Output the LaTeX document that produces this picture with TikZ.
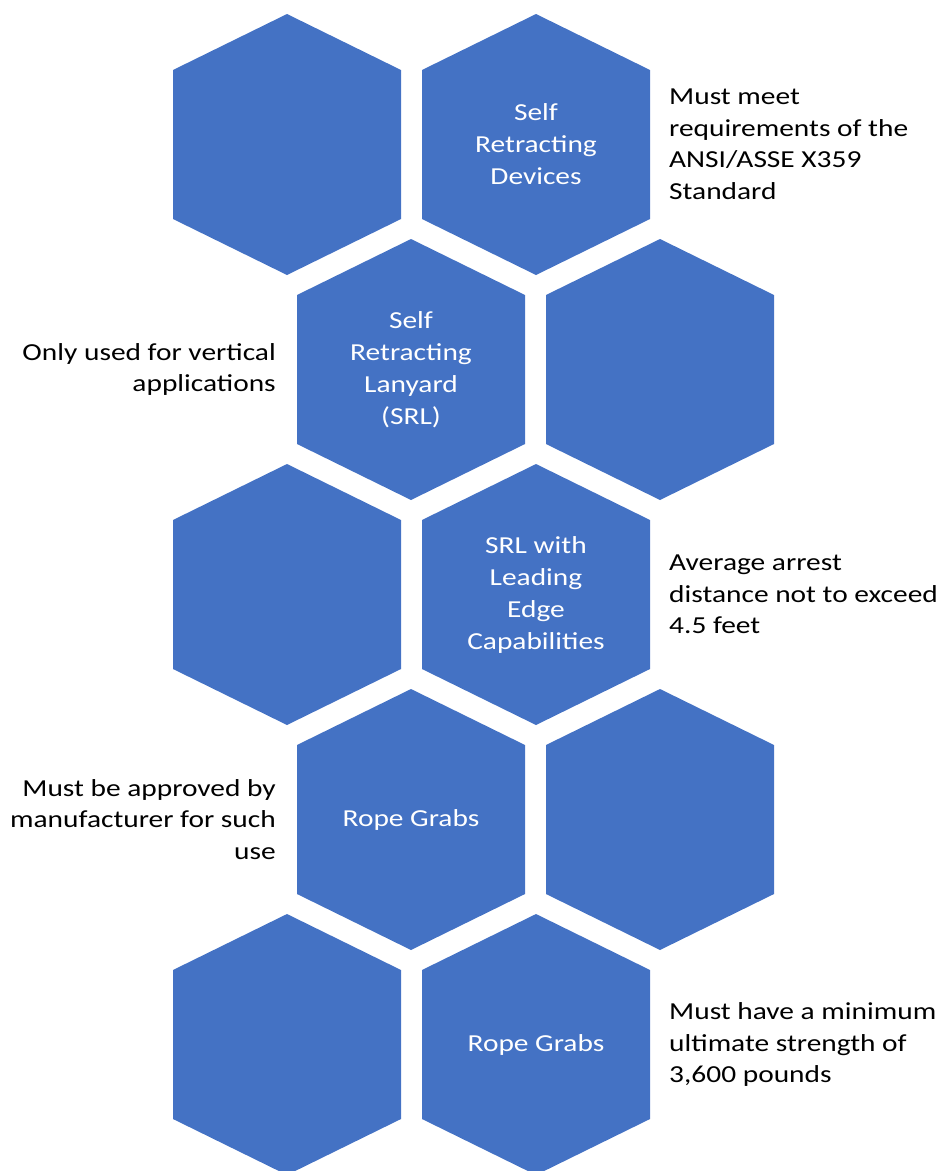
\documentclass[tikz,border=0pt]{standalone}
\usepackage{fontspec}
\setmainfont{Carlito}[FakeStretch=1.205]
\definecolor{hexblue}{HTML}{4472C4}
\begin{document}
\begin{tikzpicture}[x=1pt,y=-1pt,
  hex/.pic={\fill[hexblue] (0,-130.5) -- (114,-74.5) -- (114,74.5) -- (0,130.5) -- (-114,74.5) -- (-114,-74.5) -- cycle;},
  hextext/.style={text=white, align=center, inner sep=0pt, font=\fontsize{24.4}{32}\selectfont},
  sidetextR/.style={text=black, align=left, anchor=west, inner sep=0pt, font=\fontsize{24.4}{31.5}\selectfont},
  sidetextL/.style={text=black, align=right, anchor=east, inner sep=0pt, font=\fontsize{24.4}{31.5}\selectfont}]
\useasboundingbox (0,0) rectangle (943,1171);
\clip (0,0) rectangle (943,1171);
% row 1
\pic (h11) at (287,144.5) {hex};
\pic (h12) at (536,144.5) {hex};
% row 2
\pic (h21) at (411,369.5) {hex};
\pic (h22) at (660,369.5) {hex};
% row 3
\pic (h31) at (287,594.5) {hex};
\pic (h32) at (536,594.5) {hex};
% row 4
\pic (h41) at (411,819.5) {hex};
\pic (h42) at (660,819.5) {hex};
% row 5
\pic (h51) at (287,1044.5) {hex};
\pic (h52) at (536,1044.5) {hex};
% hexagon labels
\node[hextext] (t12) at (536,144.5) {Self\\Retracting\\Devices};
\node[hextext] (t21) at (411,369.5) {Self\\Retracting\\Lanyard\\(SRL)};
\node[hextext] (t32) at (536,594.5) {SRL with\\Leading\\Edge\\Capabilities};
\node[hextext] (t41) at (411,819.5) {Rope Grabs};
\node[hextext] (t52) at (536,1044.5) {Rope Grabs};
% side texts
\node[sidetextR] (s1) at (669,144.5) {Must meet\\requirements of the\\ANSI/ASSE X359\\Standard};
\node[sidetextL] (s2) at (276,369.5) {Only used for vertical\\applications};
\node[sidetextR] (s3) at (669,594.5) {Average arrest\\distance not to exceed\\4.5 feet};
\node[sidetextL] (s4) at (276,819.5) {Must be approved by\\manufacturer for such\\use};
\node[sidetextR] (s5) at (669,1044.5) {Must have a minimum\\ultimate strength of\\3,600 pounds};
\end{tikzpicture}
\end{document}
